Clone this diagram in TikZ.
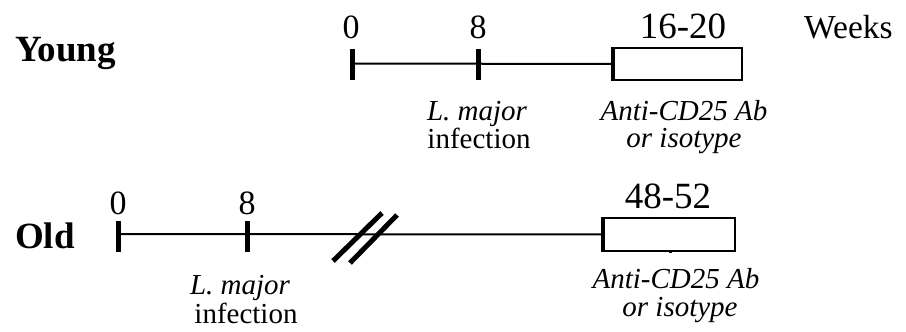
\documentclass[tikz,border=0pt]{standalone}
\usepackage{fontspec}
\setmainfont{Liberation Serif}
\begin{document}
\begin{tikzpicture}[x=1pt,y=-1pt,
  num/.style={anchor=base, inner sep=0pt, font=\fontsize{34}{40}\selectfont},
  bignum/.style={anchor=base, inner sep=0pt, font=\fontsize{37}{42}\selectfont},
  grp/.style={anchor=base west, inner sep=0pt, font=\fontsize{37}{42}\selectfont\bfseries},
  lab/.style={anchor=base, inner sep=0pt, font=\fontsize{29}{34}\selectfont},
  tl/.style={line width=2pt},
  tk/.style={line width=5pt},
  slash/.style={line width=5pt},
  period/.style={draw, line width=2pt, rectangle, inner sep=0pt}
]
\useasboundingbox (0,0) rectangle (906,332);

% ---------- Young ----------
\coordinate (y0) at (352,63.5);
\node[period, anchor=west, minimum width=128pt, minimum height=32pt] (ybox) at (613,64) {};
\draw[tl] (y0) -- (ybox.west);
\draw[line width=4pt] (ybox.north west) -- (ybox.south west);
\draw[tk] (352,49) -- (352,80);
\draw[tk] (478,49) -- (478,80);

\node[grp] (young) at (15,61) {Young};
\node[num] (ny0) at (351,38) {0};
\node[num] (ny8) at (478,38) {8};
\node[bignum] (ny16) at (683,38) {16-20};
\node[anchor=base west, inner sep=0pt, font=\fontsize{33.5}{38}\selectfont] (weeks) at (804,38) {Weeks};
\node[lab] (ylm) at (477,120) {\textit{L. major}};
\node[lab] (yinf) at (479,148) {infection};
\node[lab] (yab) at (684,120) {\textit{Anti-CD25 Ab}};
\node[lab] (yiso) at (684,147) {\textit{or isotype}};

% ---------- Old ----------
\coordinate (o0) at (118,234);
\node[period, anchor=west, minimum width=131pt, minimum height=33pt] (obox) at (603,234.5) {};
\draw[tl] (o0) -- (obox.west);
\draw[line width=4pt] (obox.north west) -- (obox.south west);
\fill (668.5,250) rectangle (672,253);
\draw[tk] (118,221) -- (118,252);
\draw[tk] (247,221) -- (247,252);
\draw[slash] (333,261) -- (382,213);
\draw[slash] (350,263) -- (397,215);

\node[grp] (old) at (15,248) {Old};
\node[num] (no0) at (118,214) {0};
\node[num] (no8) at (247,214) {8};
\node[bignum] (no48) at (668,208) {48-52};
\node[lab] (olm) at (240,294) {\textit{L. major}};
\node[lab] (oinf) at (246,323) {infection};
\node[lab] (oab) at (676,288) {\textit{Anti-CD25 Ab}};
\node[lab] (oiso) at (680,316) {\textit{or isotype}};
\end{tikzpicture}
\end{document}
